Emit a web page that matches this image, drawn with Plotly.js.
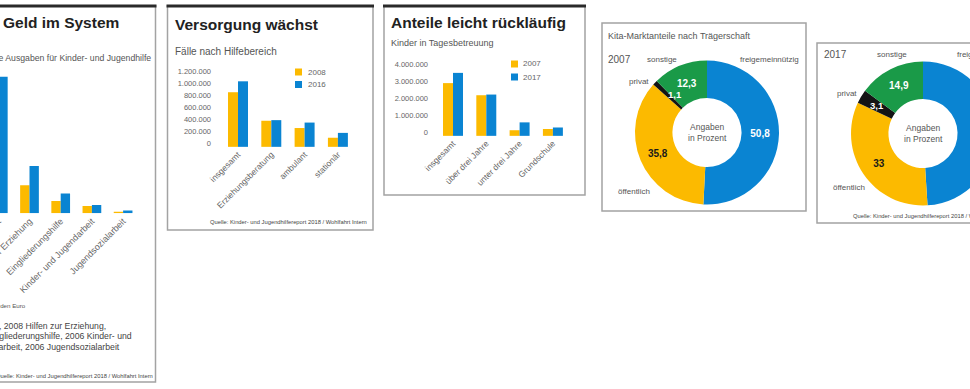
<!DOCTYPE html>
<html><head><meta charset="utf-8">
<script src="https://cdn.plot.ly/plotly-3.0.1.min.js"></script>
<style>
html,body{margin:0;padding:0;background:#fff;overflow:hidden;width:970px;height:389px}
#chart{position:absolute;left:-40px;top:0;width:1040px;height:389px}
</style>
</head><body><div id="chart"></div>
<script>
// ---------- DATA ----------
// Panel 1: Ausgaben (Mrd. Euro)
const p1Categories = ['insgesamt', 'Hilfen zur Erziehung', 'Eingliederungshilfe', 'Kinder- und Jugendarbeit', 'Jugendsozialarbeit'];
const p1SeriesNames = ['Vergleichsjahr', '2016'];
const p1Earlier = [20.9, 9.3, 4.1, 2.4, 0.5];
const p1Later = [45.1, 15.6, 6.5, 2.7, 0.9];

// Panel 2: Fälle nach Hilfebereich
const p2Categories = ['insgesamt', 'Erziehungsberatung', 'ambulant', 'stationär'];
const p2SeriesNames = ['2008', '2016'];
const p2Values2008 = [900000, 430000, 310000, 150000];
const p2Values2016 = [1080000, 440000, 400000, 230000];
const p2TickValues = [0, 200000, 400000, 600000, 800000, 1000000, 1200000];

// Panel 3: Kinder in Tagesbetreuung
const p3Categories = ['insgesamt', 'über drei Jahre', 'unter drei Jahre', 'Grundschule'];
const p3SeriesNames = ['2007', '2017'];
const p3Values2007 = [3090000, 2380000, 330000, 400000];
const p3Values2017 = [3690000, 2420000, 790000, 490000];
const p3TickValues = [0, 1000000, 2000000, 3000000, 4000000];

// Donuts: Kita-Marktanteile nach Trägerschaft (Prozent)
const kitaLabels = ['freigemeinnützig', 'öffentlich', 'privat', 'sonstige'];
const kitaYears = ['2007', '2017'];
const kita2007 = [50.8, 35.8, 1.1, 12.3];
const kita2017 = [49, 33, 3.1, 14.9];

// ---------- STYLE / GEOMETRY ----------
const YELLOW = '#FCBA00', BLUE = '#0A84D2', GREEN = '#1A9A48', BLACK = '#141414';
const FONT = 'Liberation Sans, Arial, sans-serif';
const TFONT = 'Liberation Sans, Arial, sans-serif';
const W = 1040, OFF = 40, H = 389;
const X = px => (px + OFF) / W;
const Y = py => 1 - py / H;
const fmt = v => String(v).replace('.', ',');

function catRange(leftPx, rightPx, pos0, step) {
  return [(leftPx - pos0) / step, (rightPx - pos0) / step];
}

const tickFont = {family: FONT, size: 7.5, color: '#666'};
const catFont = {family: FONT, size: 8.5, color: '#666'};

const data = [];
// Panel 1 bars
data.push({type: 'bar', x: p1Categories, y: p1Earlier, name: p1SeriesNames[0], marker: {color: YELLOW}, xaxis: 'x', yaxis: 'y', hoverinfo: 'none'});
data.push({type: 'bar', x: p1Categories, y: p1Later, name: p1SeriesNames[1], marker: {color: BLUE}, xaxis: 'x', yaxis: 'y', hoverinfo: 'none'});
// Panel 2 bars
data.push({type: 'bar', x: p2Categories, y: p2Values2008, name: p2SeriesNames[0], marker: {color: YELLOW}, xaxis: 'x2', yaxis: 'y2', hoverinfo: 'none'});
data.push({type: 'bar', x: p2Categories, y: p2Values2016, name: p2SeriesNames[1], marker: {color: BLUE}, xaxis: 'x2', yaxis: 'y2', hoverinfo: 'none'});
// Panel 3 bars
data.push({type: 'bar', x: p3Categories, y: p3Values2007, name: p3SeriesNames[0], marker: {color: YELLOW}, xaxis: 'x3', yaxis: 'y3', hoverinfo: 'none'});
data.push({type: 'bar', x: p3Categories, y: p3Values2017, name: p3SeriesNames[1], marker: {color: BLUE}, xaxis: 'x3', yaxis: 'y3', hoverinfo: 'none'});

// Donuts
const donutCenters = [[707, 132.5], [923, 133.5]];
const donutR = 72;
[kita2007, kita2017].forEach((vals, k) => {
  const [cx, cy] = donutCenters[k];
  data.push({
    type: 'pie', labels: kitaLabels, values: vals, text: vals.map(fmt),
    textinfo: 'text', textposition: ['inside', 'inside', 'none', 'inside'], insidetextorientation: 'horizontal',
    hole: 0.48, sort: false, direction: 'clockwise', rotation: 0,
    marker: {colors: [BLUE, YELLOW, BLACK, GREEN], line: {width: 0}},
    insidetextfont: {family: FONT, size: 10, weight: 'bold', color: ['#ffffff', '#1a1a1a', '#ffffff', '#ffffff']},
    domain: {x: [X(cx - donutR), X(cx + donutR)], y: [Y(cy + donutR), Y(cy - donutR)]},
    hoverinfo: 'none', showlegend: false, name: kitaYears[k]
  });
});

// ---------- LAYOUT ----------
const shapes = [];
function box(x0, x1, y0, y1, topBar) {
  shapes.push({type: 'rect', xref: 'paper', yref: 'paper', x0: X(x0), x1: X(x1), y0: Y(y1), y1: Y(y0),
    line: {color: '#a3a3a3', width: 1.5}, fillcolor: 'rgba(0,0,0,0)'});
  if (topBar) shapes.push({type: 'line', xref: 'paper', yref: 'paper', x0: X(x0 - 1), x1: X(x1 + 1), y0: Y(y0), y1: Y(y0),
    line: {color: '#2a2a2a', width: 3}});
}
box(-40, 155.5, 6, 382, true);
box(167.5, 373, 6, 230, true);
box(384, 585, 6, 195, true);
box(602, 806, 23, 211, false);
box(817, 1010, 43, 223, false);

const annotations = [];
function txt(text, px, py, size, opts) {
  opts = opts || {};
  annotations.push(Object.assign({
    xref: 'paper', yref: 'paper', x: X(px), y: Y(py), text: text, showarrow: false,
    xanchor: opts.anchor || 'left', yanchor: 'middle', align: opts.align || 'left',
    font: {family: opts.family || FONT, size: size, color: opts.color || '#555', weight: opts.weight || 'normal'},
    borderpad: 0
  }));
}
// Panel 1 texts
txt('Geld im System', 2, 22, 15.5, {family: TFONT, weight: 'bold', color: '#222'});
txt('Öffentliche Ausgaben für Kinder- und Jugendhilfe', 152, 58, 8.7, {anchor: 'right'});
txt('Angaben in Milliarden Euro', 27, 305, 6.2, {anchor: 'right'});
txt('*Vergleichsjahre: 2010 Gesamtausgaben, 2008 Hilfen zur Erziehung,', 107, 325.5, 8.7, {anchor: 'right', color: '#444'});
txt('2006 Eingliederungshilfe, 2006 Kinder- und', 133, 336, 8.7, {anchor: 'right', color: '#444'});
txt('Jugendarbeit, 2006 Jugendsozialarbeit', 121, 346.5, 8.7, {anchor: 'right', color: '#444'});
txt('Quelle: Kinder- und Jugendhilfereport 2018 / Wohlfahrt Intern', 154, 376, 5.8, {anchor: 'right', color: '#444'});
// Panel 2 texts
txt('Versorgung wächst', 174, 25, 15.5, {family: TFONT, weight: 'bold', color: '#222'});
txt('Fälle nach Hilfebereich', 174, 52, 10);
txt('Quelle: Kinder- und Jugendhilfereport 2018 / Wohlfahrt Intern', 368, 222, 5.8, {anchor: 'right', color: '#444'});
// Panel 3 texts
txt('Anteile leicht rückläufig', 390, 22, 15.5, {family: TFONT, weight: 'bold', color: '#222'});
txt('Kinder in Tagesbetreuung', 390, 43, 9);

// Manual legends
function legend(names, sqX, textX, ys) {
  [YELLOW, BLUE].forEach((c, i) => {
    shapes.push({type: 'rect', xref: 'paper', yref: 'paper', x0: X(sqX), x1: X(sqX + 7), y0: Y(ys[i] + 3.5), y1: Y(ys[i] - 3.5),
      line: {width: 0}, fillcolor: c});
    txt(names[i], textX, ys[i], 8, {color: '#666'});
  });
}
legend(p2SeriesNames, 295, 307, [72, 84.5]);
legend(p3SeriesNames, 511, 522, [64, 77]);

// Donut texts
txt('Kita-Marktanteile nach Trägerschaft', 607, 36, 9);
txt(kitaYears[0], 607, 59, 10);
txt(kitaYears[1], 823, 55, 10);
const lblPos07 = [[769, 59], [633.5, 191], [638.5, 82], [662, 59]];
const lblPos17 = [[986, 54], [849, 187], [847, 93], [892, 54]];
kitaLabels.forEach((l, i) => {
  txt(l, lblPos07[i][0], lblPos07[i][1], 8, {anchor: 'center'});
  txt(l, lblPos17[i][0], lblPos17[i][1], 8, {anchor: 'center'});
});
// small "privat" slice values, placed beside the thin slice
const privatIdx = kitaLabels.indexOf('privat');
txt(fmt(kita2007[privatIdx]), 675, 95, 9.5, {anchor: 'center', color: '#ffffff', weight: 'bold'});
txt(fmt(kita2017[privatIdx]), 877, 105, 9.5, {anchor: 'center', color: '#ffffff', weight: 'bold'});
donutCenters.forEach(([cx, cy]) => txt('Angaben<br>in Prozent', cx, cy, 8.5, {anchor: 'center', align: 'center'}));
txt('Quelle: Kinder- und Jugendhilfereport 2018 / Wohlfahrt Intern', 852, 216, 5.8, {color: '#444'});

const baseX = {type: 'category', showgrid: false, zeroline: false, showline: false, ticks: '', tickangle: -45, tickfont: catFont, fixedrange: true};
const baseY = {showgrid: false, zeroline: false, showline: false, ticks: '', tickfont: tickFont, fixedrange: true};
const p2Max = (147 - 68) / 60.8e-6;
const p3Max = (136 - 60) / 17.1e-6;

const layout = {
  width: W, height: H, margin: {l: 0, r: 0, t: 0, b: 0, pad: 0},
  paper_bgcolor: '#fff', plot_bgcolor: 'rgba(0,0,0,0)',
  showlegend: false, barmode: 'group', bargap: 0.4, bargroupgap: 0,
  separators: ',.', uniformtext: {minsize: 10, mode: 'show'},
  font: {family: FONT},
  xaxis: Object.assign({}, baseX, {domain: [X(-38), X(150)], range: catRange(-38, 150, -1.7, 31.2), anchor: 'y', tickfont: {family: FONT, size: 9, color: '#666'}}),
  yaxis: Object.assign({}, baseY, {domain: [Y(213.3), Y(70)], range: [0, (213.3 - 70) / 3.029], anchor: 'x', showticklabels: false}),
  xaxis2: Object.assign({}, baseX, {domain: [X(212), X(366)], range: catRange(212, 366, 238, 33.3), anchor: 'y2'}),
  yaxis2: Object.assign({}, baseY, {domain: [Y(147), Y(68)], range: [-0.002 * p2Max, p2Max], anchor: 'x2',
    tickmode: 'array', tickvals: p2TickValues, tickformat: ',d', ticklabelshift: -3}),
  xaxis3: Object.assign({}, baseX, {domain: [X(429), X(580)], range: catRange(429, 580, 453, 33.3), anchor: 'y3'}),
  yaxis3: Object.assign({}, baseY, {domain: [Y(136), Y(60)], range: [-0.002 * p3Max, p3Max], anchor: 'x3',
    tickmode: 'array', tickvals: p3TickValues, tickformat: ',d', ticklabelshift: -3}),
  shapes: shapes, annotations: annotations
};

Plotly.newPlot('chart', data, layout, {staticPlot: true, displayModeBar: false});
</script>
</body></html>
